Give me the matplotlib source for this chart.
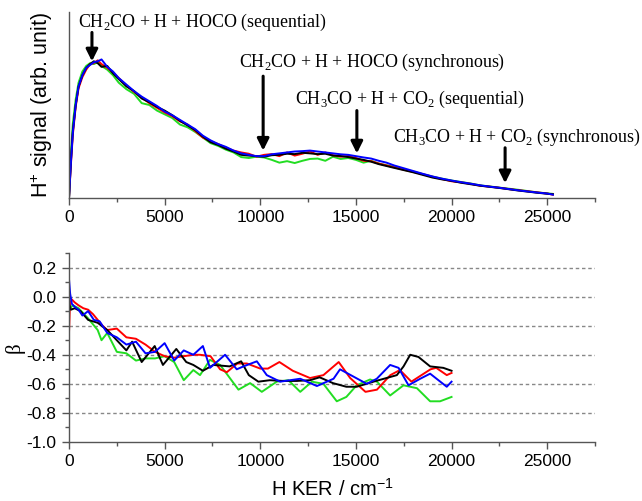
import matplotlib
matplotlib.use("Agg")
import matplotlib.pyplot as plt
from matplotlib.ticker import MultipleLocator, FixedLocator

# ---------------- data: top panel (H+ signal, arb. unit) ----------------
x_sig = [0, 100, 200, 350, 500, 700, 900, 1100, 1300, 1500, 1700, 2000, 2300, 2600,
         3000, 3400, 3800, 4200, 4600, 5000, 5400, 5800, 6200, 6600, 7000, 7400,
         7800, 8200, 8600, 9000, 9400, 9800, 10200, 10600, 11000, 11400, 11800,
         12200, 12600, 13000, 13400, 13800, 14200, 14600, 15000, 15400, 15800,
         16200, 16600, 17000, 17500, 18000, 18500, 19000, 19500, 20000, 20500,
         21000, 21500, 22000, 22500, 23000, 23500, 24000, 24500, 25000, 25300]
sig_black = [0.0, 0.2, 0.36, 0.5, 0.6, 0.66, 0.7, 0.72, 0.735, 0.725, 0.705, 0.71, 0.67, 0.64,
             0.6, 0.575, 0.535, 0.515, 0.49, 0.47, 0.445, 0.415, 0.39, 0.365, 0.33, 0.3,
             0.285, 0.265, 0.25, 0.232, 0.228, 0.225, 0.222, 0.23, 0.232, 0.238, 0.236,
             0.243, 0.24, 0.236, 0.238, 0.228, 0.226, 0.22, 0.212, 0.205, 0.195,
             0.182, 0.172, 0.162, 0.15, 0.138, 0.124, 0.11, 0.1, 0.092, 0.082,
             0.074, 0.066, 0.06, 0.054, 0.047, 0.04, 0.034, 0.028, 0.023, 0.02]
sig_red = [0.0, 0.18, 0.34, 0.49, 0.59, 0.65, 0.69, 0.72, 0.725, 0.74, 0.72, 0.7, 0.675, 0.645,
           0.605, 0.57, 0.54, 0.51, 0.485, 0.46, 0.44, 0.412, 0.395, 0.36, 0.325, 0.305,
           0.29, 0.27, 0.255, 0.245, 0.238, 0.222, 0.232, 0.236, 0.225, 0.245, 0.228,
           0.238, 0.25, 0.232, 0.245, 0.23, 0.222, 0.226, 0.215, 0.2, 0.198,
           0.185, 0.175, 0.165, 0.152, 0.14, 0.128, 0.114, 0.102, 0.09, 0.084,
           0.076, 0.066, 0.061, 0.055, 0.048, 0.042, 0.036, 0.03, 0.024, 0.018]
sig_green = [0.0, 0.24, 0.4, 0.53, 0.62, 0.68, 0.71, 0.725, 0.72, 0.73, 0.71, 0.69, 0.66, 0.62,
             0.585, 0.56, 0.51, 0.5, 0.47, 0.45, 0.43, 0.395, 0.38, 0.355, 0.325, 0.295,
             0.28, 0.26, 0.245, 0.22, 0.215, 0.222, 0.218, 0.205, 0.19, 0.198, 0.188,
             0.2, 0.21, 0.212, 0.2, 0.222, 0.21, 0.215, 0.205, 0.19, 0.2,
             0.185, 0.176, 0.168, 0.155, 0.142, 0.128, 0.115, 0.104, 0.094, 0.086,
             0.078, 0.068, 0.062, 0.056, 0.05, 0.044, 0.037, 0.03, 0.025, 0.022]
sig_blue = [0.0, 0.19, 0.35, 0.5, 0.6, 0.66, 0.7, 0.715, 0.73, 0.735, 0.745, 0.705, 0.68, 0.645,
            0.61, 0.575, 0.545, 0.52, 0.495, 0.465, 0.445, 0.42, 0.395, 0.37, 0.335, 0.31,
            0.29, 0.275, 0.255, 0.24, 0.232, 0.225, 0.225, 0.235, 0.24, 0.245, 0.25,
            0.252, 0.255, 0.25, 0.245, 0.24, 0.235, 0.232, 0.225, 0.218, 0.212,
            0.2, 0.19, 0.175, 0.16, 0.145, 0.13, 0.116, 0.104, 0.094, 0.085,
            0.077, 0.068, 0.061, 0.055, 0.048, 0.041, 0.035, 0.029, 0.024, 0.018]

# ---------------- data: bottom panel (beta) ----------------
x_b_red = [0, 50, 150, 300, 500, 750, 1000, 1250, 1500, 1750, 2000, 2500, 3000, 3500,
           4000, 4500, 5000, 5500, 6000, 6500, 6850, 7400, 7900, 8250, 8800, 9300,
           10000, 10400, 11000, 11700, 12600, 13300, 14100, 14700, 15500, 16100,
           16800, 17300, 17900, 18900, 19200, 19750, 20000]
b_red = [-0.25, -0.05, -0.02, -0.04, -0.06, -0.08, -0.09, -0.12, -0.16, -0.2, -0.23, -0.22,
         -0.28, -0.29, -0.33, -0.38, -0.41, -0.42, -0.41, -0.40, -0.40, -0.41, -0.50,
         -0.52, -0.46, -0.46, -0.495, -0.495, -0.45, -0.51, -0.56, -0.54, -0.45, -0.56,
         -0.655, -0.64, -0.54, -0.505, -0.585, -0.50, -0.49, -0.54, -0.525]

x_b_black = [0, 100, 300, 600, 1000, 1500, 2000, 2500, 3000, 3300, 3800, 4480, 4910,
             5610, 6130, 6500, 7000, 7550, 8400, 9000, 9400, 9900, 10500, 11200, 11900,
             12600, 13100, 13800, 14500, 15040, 15920, 17140, 17490, 17840, 18270,
             18880, 19570, 20000]
b_black = [-0.05, -0.09, -0.08, -0.10, -0.16, -0.18, -0.23, -0.30, -0.37, -0.31, -0.45,
           -0.34, -0.47, -0.36, -0.45, -0.47, -0.51, -0.47, -0.48, -0.445, -0.54, -0.585,
           -0.575, -0.58, -0.58, -0.575, -0.555, -0.595, -0.62, -0.62, -0.585, -0.54,
           -0.48, -0.40, -0.415, -0.48, -0.49, -0.51]

x_b_green = [0, 50, 200, 500, 1000, 1500, 1700, 2000, 2500, 3000, 3500, 4000, 4500,
             5000, 5500, 6000, 6500, 6850, 7370, 7900, 8860, 9470, 10080, 10860, 11470,
             12090, 12700, 13300, 14000, 14500, 15040, 15740, 16100, 16790, 17490,
             18190, 18880, 19400, 20000]
b_green = [-0.10, -0.08, -0.06, -0.08, -0.15, -0.23, -0.30, -0.25, -0.38, -0.39, -0.44,
           -0.425, -0.425, -0.41, -0.45, -0.575, -0.505, -0.54, -0.435, -0.47, -0.64,
           -0.595, -0.655, -0.585, -0.575, -0.655, -0.585, -0.60, -0.72, -0.69, -0.61,
           -0.57, -0.585, -0.68, -0.61, -0.63, -0.72, -0.72, -0.69]

x_b_blue = [0, 60, 150, 300, 500, 700, 1000, 1300, 1600, 2000, 2500, 3000, 3500, 4000,
            4500, 5000, 5500, 6000, 6500, 7000, 7370, 8160, 8770, 9120, 9820, 10340,
            11040, 11560, 12090, 12960, 13830, 14170, 14870, 15570, 16090, 16790,
            17230, 17750, 18360, 18880, 19750, 20000]
b_blue = [0.12, 0.02, -0.05, -0.07, -0.09, -0.13, -0.10, -0.16, -0.17, -0.25, -0.28,
          -0.33, -0.31, -0.39, -0.38, -0.32, -0.44, -0.37, -0.40, -0.34, -0.49, -0.40,
          -0.50, -0.48, -0.445, -0.54, -0.585, -0.575, -0.565, -0.615, -0.565, -0.50,
          -0.55, -0.60, -0.565, -0.47, -0.49, -0.61, -0.565, -0.53, -0.62, -0.585]

# ---------------- annotations ----------------
ann_texts = ["CH$_\\mathregular{2}$CO + H + HOCO (sequential)",
             "CH$_\\mathregular{2}$CO + H + HOCO (synchronous)",
             "CH$_\\mathregular{3}$CO + H + CO$_\\mathregular{2}$ (sequential)",
             "CH$_\\mathregular{3}$CO + H + CO$_\\mathregular{2}$ (synchronous)"]
ann_text_pos = [(470, 0.946), (8890, 0.731), (11810, 0.532), (16930, 0.328)]
arrow_x = [1200, 10150, 15050, 22800]
arrow_top = [0.89, 0.655, 0.47, 0.27]
arrow_tip = [0.735, 0.255, 0.24, 0.08]

xticks_major = [0, 5000, 10000, 15000, 20000, 25000]
xtick_labels = ["0", "5000", "10000", "15000", "20000", "25000"]
beta_ticks = [0.2, 0.0, -0.2, -0.4, -0.6, -0.8, -1.0]
beta_labels = ["0.2", "0.0", "-0.2", "-0.4", "-0.6", "-0.8", "-1.0"]

# ---------------- figure ----------------
plt.rcParams['font.family'] = ['Liberation Sans', 'DejaVu Sans']
plt.rcParams['mathtext.fontset'] = 'custom'
plt.rcParams['mathtext.rm'] = 'Liberation Sans'
plt.rcParams['mathtext.it'] = 'Liberation Sans:italic'

fig = plt.figure(figsize=(6.42, 5.01), dpi=100)
W, H = 642, 501
ax1 = fig.add_axes([69 / W, 1 - 198 / H, (595 - 69) / W, (198 - 12) / H])
ax2 = fig.add_axes([69 / W, 1 - 442 / H, (595 - 69) / W, (442 - 253) / H])

cols = {"black": "#000000", "red": "#ff0000", "green": "#22dd22", "blue": "#0000ff"}
lw = 1.4

ax1.plot(x_sig, sig_green, color=cols["green"], lw=lw)
ax1.plot(x_sig, sig_red, color=cols["red"], lw=lw)
ax1.plot(x_sig, sig_black, color=cols["black"], lw=lw)
ax1.plot(x_sig, sig_blue, color=cols["blue"], lw=lw)

ax2.plot(x_b_green, b_green, color=cols["green"], lw=lw)
ax2.plot(x_b_red, b_red, color=cols["red"], lw=lw)
ax2.plot(x_b_black, b_black, color=cols["black"], lw=lw)
ax2.plot(x_b_blue, b_blue, color=cols["blue"], lw=lw)

for ax in (ax1, ax2):
    ax.set_xlim(0, 27500)
    ax.spines['top'].set_visible(False)
    ax.spines['right'].set_visible(False)
    for s in ('left', 'bottom'):
        ax.spines[s].set_color('#555555')
        ax.spines[s].set_linewidth(1.0)
    ax.xaxis.set_major_locator(FixedLocator(xticks_major))
    ax.set_xticklabels(xtick_labels)
    ax.xaxis.set_minor_locator(MultipleLocator(2500))
    ax.tick_params(axis='both', which='major', direction='out', length=5, width=1,
                   color='#555555', labelsize=12.5, pad=4)
    ax.tick_params(axis='both', which='minor', direction='out', length=3, width=1,
                   color='#555555')

ax1.set_ylim(0, 1)
ax1.set_yticks([])
ax1.set_ylabel("H$^{+}$ signal (arb. unit)", fontsize=15.5, labelpad=10)

ax2.set_ylim(-1.0, 0.3)
ax2.set_yticks(beta_ticks)
ax2.set_yticklabels(beta_labels)
ax2.yaxis.set_minor_locator(MultipleLocator(0.1))
for yv in beta_ticks[:-1]:
    ax2.axhline(yv, color='#888888', lw=1.0, ls=(0, (2.5, 2.0)), zorder=0)
ax2.set_ylabel("β", fontsize=15, labelpad=1,
               family=['Liberation Serif', 'DejaVu Serif'])
ax2.set_xlabel("H KER / cm$^{-1}$", fontsize=14.5, labelpad=6)

for txt, (tx, ty), axx, yt, yb in zip(ann_texts, ann_text_pos, arrow_x, arrow_top, arrow_tip):
    ax1.text(tx, ty, txt, fontsize=12.9, family=['Liberation Serif', 'DejaVu Serif'],
             va='center', ha='left')
    ax1.annotate("", xy=(axx, yb), xytext=(axx, yt),
                 arrowprops=dict(arrowstyle="-|>,head_length=0.7,head_width=0.35",
                                 color='black', lw=2.2, shrinkA=0, shrinkB=0))

fig.savefig("out.png", dpi=100, facecolor='white')
